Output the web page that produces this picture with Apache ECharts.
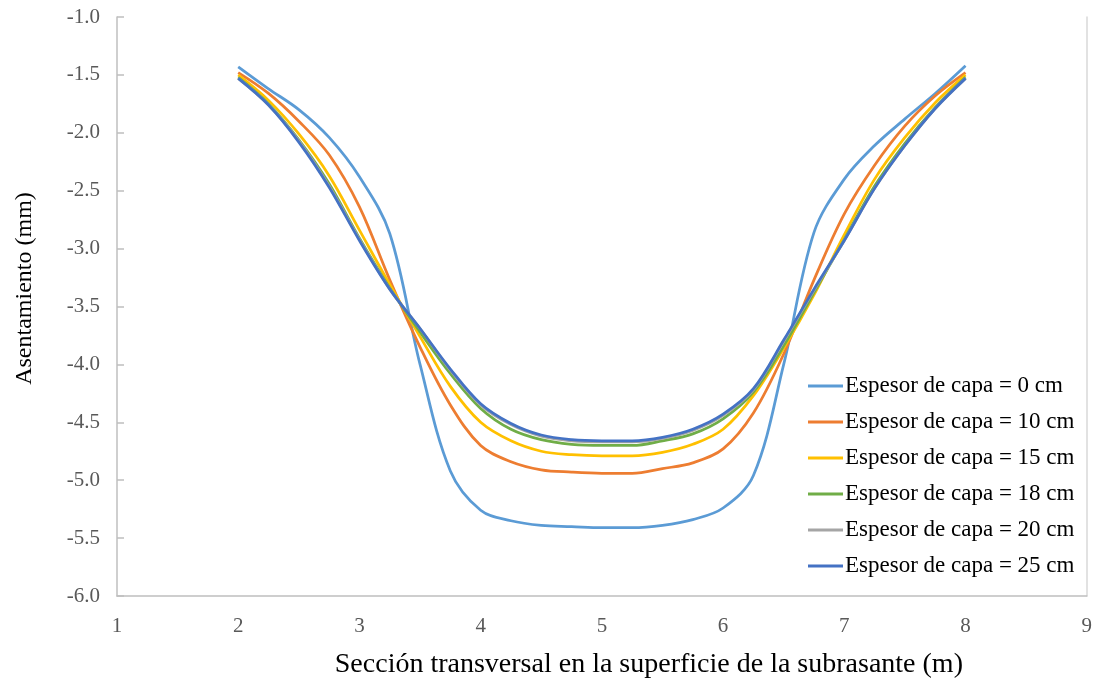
<!DOCTYPE html>
<html>
<head>
<meta charset="utf-8">
<script src="https://cdn.jsdelivr.net/npm/echarts@6/dist/echarts.min.js"></script>
<style>
html,body{margin:0;padding:0;background:#fff;}
#chart{width:1095px;height:685px;}
</style>
</head>
<body>
<div id="chart"></div>
<script>
// Section positions (m)
const xValues = [2.0, 2.25, 2.5, 2.75, 3.0, 3.25, 3.5, 3.75, 4.0, 4.25, 4.5, 4.75, 5.0, 5.25, 5.5, 5.75, 6.0, 6.25, 6.5, 6.75, 7.0, 7.25, 7.5, 7.75, 8.0];
const seriesNames = ["Espesor de capa = 0 cm", "Espesor de capa = 10 cm", "Espesor de capa = 15 cm", "Espesor de capa = 18 cm", "Espesor de capa = 20 cm", "Espesor de capa = 25 cm"];
const esp0  = [-1.43, -1.62, -1.80, -2.04, -2.38, -2.87, -4.00, -4.92, -5.26, -5.35, -5.39, -5.40, -5.41, -5.41, -5.39, -5.34, -5.24, -4.96, -4.00, -2.86, -2.40, -2.11, -1.88, -1.66, -1.42];
const esp10 = [-1.48, -1.66, -1.90, -2.19, -2.64, -3.27, -3.85, -4.35, -4.70, -4.84, -4.91, -4.93, -4.94, -4.94, -4.90, -4.85, -4.73, -4.42, -3.91, -3.27, -2.70, -2.28, -1.94, -1.68, -1.48];
const esp15 = [-1.50, -1.72, -2.01, -2.37, -2.84, -3.31, -3.76, -4.19, -4.50, -4.66, -4.75, -4.78, -4.79, -4.79, -4.76, -4.69, -4.56, -4.27, -3.86, -3.40, -2.88, -2.40, -2.04, -1.74, -1.50];
const esp18 = [-1.52, -1.75, -2.06, -2.44, -2.91, -3.34, -3.72, -4.08, -4.38, -4.56, -4.65, -4.69, -4.70, -4.70, -4.66, -4.60, -4.47, -4.24, -3.84, -3.38, -2.92, -2.46, -2.09, -1.78, -1.52];
const esp20 = [-1.53, -1.76, -2.07, -2.46, -2.92, -3.35, -3.69, -4.05, -4.35, -4.52, -4.62, -4.66, -4.67, -4.67, -4.64, -4.57, -4.44, -4.22, -3.80, -3.36, -2.93, -2.48, -2.11, -1.79, -1.53];
const esp25 = [-1.53, -1.76, -2.08, -2.47, -2.93, -3.35, -3.69, -4.04, -4.34, -4.51, -4.61, -4.65, -4.66, -4.66, -4.63, -4.56, -4.43, -4.21, -3.79, -3.35, -2.93, -2.48, -2.11, -1.79, -1.53];
const xTickLabels = ["1", "2", "3", "4", "5", "6", "7", "8", "9"];
const yTickLabels = ["-6.0", "-5.5", "-5.0", "-4.5", "-4.0", "-3.5", "-3.0", "-2.5", "-2.0", "-1.5", "-1.0"];

const allSeries = [esp0, esp10, esp15, esp18, esp20, esp25];
const colors = ["#5B9BD5", "#ED7D31", "#FFC000", "#70AD47", "#A5A5A5", "#4472C4"];

const chart = echarts.init(document.getElementById('chart'));
const FONT = '"Liberation Serif", "Times New Roman", serif';

chart.setOption({
  animation: false,
  backgroundColor: '#ffffff',
  textStyle: { fontFamily: FONT },
  grid: { left: 117, right: 8, top: 17, bottom: 89, containLabel: false },
  legend: {
    orient: 'vertical',
    left: 803,
    top: 369,
    itemWidth: 35,
    itemHeight: 3,
    itemGap: 12,
    icon: 'rect',
    data: seriesNames,
    textStyle: { fontFamily: FONT, fontSize: 23, color: '#000000', lineHeight: 24, padding: [0, 0, 0, -3] }
  },
  xAxis: {
    type: 'value',
    min: 1, max: 9, interval: 1,
    name: 'Sección transversal en la superficie de la subrasante (m)',
    nameLocation: 'middle',
    nameGap: 55,
    nameTextStyle: { fontFamily: FONT, fontSize: 28, color: '#000000', padding: [0, 0, 0, 94] },
    axisLine: { lineStyle: { color: '#BFBFBF', width: 1.5 } },
    axisTick: { show: false },
    splitLine: { show: false },
    axisLabel: {
      fontFamily: FONT, fontSize: 21, color: '#595959', margin: 20,
      formatter: function (v) { return xTickLabels[Math.round(v) - 1]; }
    }
  },
  yAxis: [{
    type: 'value',
    min: -6, max: -1, interval: 0.5,
    name: 'Asentamiento (mm)',
    nameLocation: 'middle',
    nameGap: 80,
    nameRotate: 90,
    nameTextStyle: { fontFamily: FONT, fontSize: 24, color: '#000000', padding: [0, 0, 0, 36] },
    axisLine: { show: true, lineStyle: { color: '#BFBFBF', width: 1.5 } },
    axisTick: { show: true, inside: true, length: 7, lineStyle: { color: '#BFBFBF', width: 1.5 } },
    splitLine: { show: false },
    axisLabel: {
      fontFamily: FONT, fontSize: 21, color: '#595959', margin: 17,
      formatter: function (v) { return yTickLabels[Math.round((v + 6) * 2)]; }
    }
  }, {
    type: 'value',
    position: 'right',
    min: -6, max: -1, interval: 0.5,
    axisLine: { show: true, lineStyle: { color: '#D9D9D9', width: 1.5 } },
    axisTick: { show: false },
    axisLabel: { show: false },
    splitLine: { show: false }
  }],
  series: allSeries.map(function (vals, i) {
    return {
      name: seriesNames[i],
      type: 'line',
      smooth: 0.35,
      symbol: 'none',
      color: colors[i],
      lineStyle: { width: 2.75, color: colors[i] },
      data: xValues.map(function (x, j) { return [x, vals[j]]; })
    };
  })
});
</script>
</body>
</html>
